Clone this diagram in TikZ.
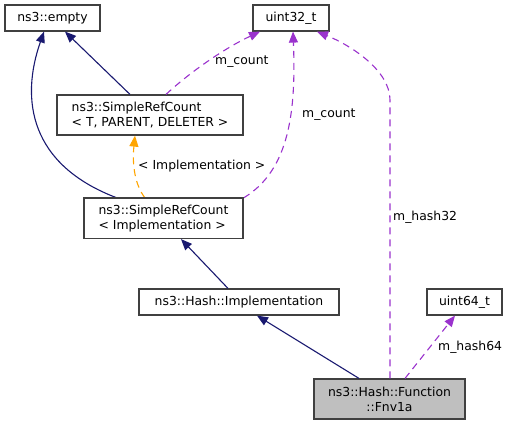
\documentclass[tikz,border=0pt]{standalone}
\usepackage{fontspec}
\setmainfont{DejaVu Sans}
\usetikzlibrary{arrows.meta}
\definecolor{navyc}{HTML}{191970}
\definecolor{purp}{HTML}{9A32CD}
\definecolor{orng}{HTML}{FFA500}
\definecolor{boxgray}{HTML}{BFBFBF}
\definecolor{edgegray}{HTML}{404040}
\begin{document}
\begin{tikzpicture}[x=1bp,y=-1bp,
  font=\fontsize{12.4bp}{15bp}\selectfont,
  cls/.style={draw=edgegray, line width=1.2bp, inner sep=0pt, minimum height=26bp, fill=white, align=left},
  cls2/.style={cls, minimum height=40bp},
  inh/.style={navyc, line width=1.1bp, -{Triangle[length=11bp,width=9bp]}},
  use/.style={purp, line width=1.1bp, dash pattern=on 7bp off 5bp, -{Triangle[length=11bp,width=9bp]}},
  tmpl/.style={orng, line width=1.1bp, dash pattern=on 7bp off 5bp, -{Triangle[length=11bp,width=9bp]}},
  lbl/.style={inner sep=0pt, anchor=west}]
\useasboundingbox (0,0) rectangle (511,425);
% nodes
\node[cls, minimum width=95bp] (empty) at (52.5,18) {ns3::empty};
\node[cls, minimum width=76bp] (u32) at (291,18) {uint32\_t};
\node[cls2, minimum width=186bp] (srcT) at (150,115) {ns3::SimpleRefCount\\< T, PARENT, DELETER >};
\node[cls2, minimum width=159bp] (srcI) at (163.5,218.5) {ns3::SimpleRefCount\\< Implementation >};
\node[cls, minimum width=200bp] (himpl) at (239,302) {ns3::Hash::Implementation};
\node[cls, minimum width=75bp] (u64) at (464.5,302) {uint64\_t};
\node[cls2, minimum width=151bp, fill=boxgray, align=center] (fnv) at (389.5,399) {ns3::Hash::Function\\::Fnv1a};
% edges
\draw[inh] ([xshift=-46.5bp]srcI.north) .. controls (30,165) and (20,100) .. ([xshift=-8.5bp]empty.south);
\draw[inh] ([xshift=-20bp]srcT.north) -- ([xshift=12.5bp]empty.south);
\draw[use] ([xshift=16bp]srcT.north) .. controls (190,72) and (225,48) .. ([xshift=-31bp]u32.south);
\node[lbl] (l1) at (215,62) {m\_count};
\draw[use] (srcI.north east) .. controls (290,170) and (296,110) .. ([xshift=2bp]u32.south);
\node[lbl] (l2) at (302,115) {m\_count};
\draw[use] ([xshift=0.5bp]fnv.north) -- (390,100) .. controls (390,70) and (350,45) .. ([xshift=26bp]u32.south);
\node[lbl] (l3) at (393,217) {m\_hash32};
\draw[use] ([xshift=15.5bp]fnv.north) -- ([xshift=-9.5bp]u64.south);
\node[lbl] (l4) at (438,347) {m\_hash64};
\draw[tmpl] ([xshift=-18.5bp]srcI.north) .. controls (135,185) and (132,165) .. ([xshift=-15bp]srcT.south);
\node[lbl] (l5) at (138,166) {< Implementation >};
\draw[inh] ([xshift=-11bp]himpl.north) -- ([xshift=17.5bp]srcI.south);
\draw[inh] ([xshift=-30.5bp]fnv.north) -- ([xshift=18bp]himpl.south);
\draw[edgegray, line width=1.2bp] (srcI.north west) -- (srcI.north east);
\end{tikzpicture}
\end{document}
